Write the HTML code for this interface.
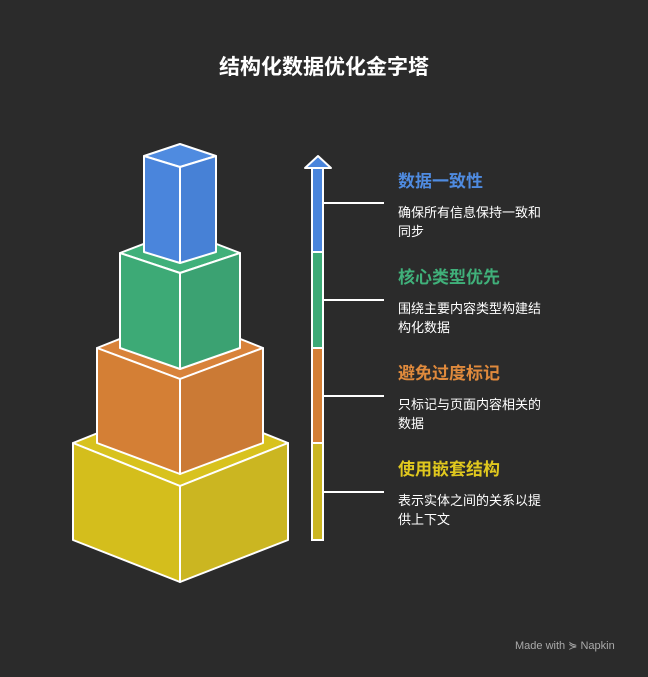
<!DOCTYPE html>
<html><head><meta charset="utf-8"><style>
body{margin:0;background:#2b2b2b;}
svg text{font-family:"Liberation Sans","Noto Sans CJK SC",sans-serif;}
</style></head><body>
<svg width="648" height="672" viewBox="0 0 648 672" xmlns="http://www.w3.org/2000/svg">
<rect width="648" height="672" fill="#2b2b2b"/>
<text x="324" y="74" text-anchor="middle" fill="#fff" font-size="21" font-weight="bold">结构化数据优化金字塔</text>
<g stroke="#fff" stroke-width="2" stroke-linejoin="round">
<!-- yellow -->
<polygon points="73,443 180,400 288,443 180,486" fill="#d8c21e"/>
<polygon points="73,443 180,486 180,582 73,540" fill="#d4be1c"/>
<polygon points="180,486 288,443 288,540 180,582" fill="#cbb621"/>
<!-- orange -->
<polygon points="97,348 180,315 263,348 180,379" fill="#d8823a"/>
<polygon points="97,348 180,379 180,474 97,443" fill="#d47f35"/>
<polygon points="180,379 263,348 263,443 180,474" fill="#cb7a35"/>
<!-- green -->
<polygon points="120,253 180,230 240,253 180,273" fill="#40b07a"/>
<polygon points="120,253 180,273 180,369 120,348" fill="#3daa76"/>
<polygon points="180,273 240,253 240,348 180,369" fill="#3ba272"/>
<!-- blue -->
<polygon points="144,156 180,144 216,156 180,167" fill="#4f8be0"/>
<polygon points="144,156 180,167 180,263 144,252" fill="#4a85dc"/>
<polygon points="180,167 216,156 216,252 180,263" fill="#4781d6"/>
</g>
<!-- arrow bar -->
<g stroke="#fff" stroke-width="2">
<rect x="312" y="168" width="11" height="84" fill="#4a85dc"/>
<rect x="312" y="252" width="11" height="96" fill="#3daa76"/>
<rect x="312" y="348" width="11" height="95" fill="#d47f35"/>
<rect x="312" y="443" width="11" height="97" fill="#cbb621"/>
<polygon points="318,156 331,168 305,168" fill="#4a85dc" stroke-linejoin="round"/>
<line x1="323" y1="203" x2="384" y2="203"/>
<line x1="323" y1="300" x2="384" y2="300"/>
<line x1="323" y1="396" x2="384" y2="396"/>
<line x1="323" y1="492" x2="384" y2="492"/>
</g>
<g font-size="17" font-weight="bold">
<text x="398" y="187" fill="#4f8be0">数据一致性</text>
<text x="398" y="283" fill="#40b07a">核心类型优先</text>
<text x="398" y="379" fill="#e08a3c">避免过度标记</text>
<text x="398" y="475" fill="#e0c81e">使用嵌套结构</text>
</g>
<g font-size="13" fill="#fff">
<text x="398" y="217">确保所有信息保持一致和</text><text x="398" y="236">同步</text>
<text x="398" y="313">围绕主要内容类型构建结</text><text x="398" y="332">构化数据</text>
<text x="398" y="409">只标记与页面内容相关的</text><text x="398" y="428">数据</text>
<text x="398" y="505">表示实体之间的关系以提</text><text x="398" y="524">供上下文</text>
</g>
<text x="515" y="649" font-size="11" fill="#aaa">Made with ⋟ Napkin</text>
</svg>
</body></html>
